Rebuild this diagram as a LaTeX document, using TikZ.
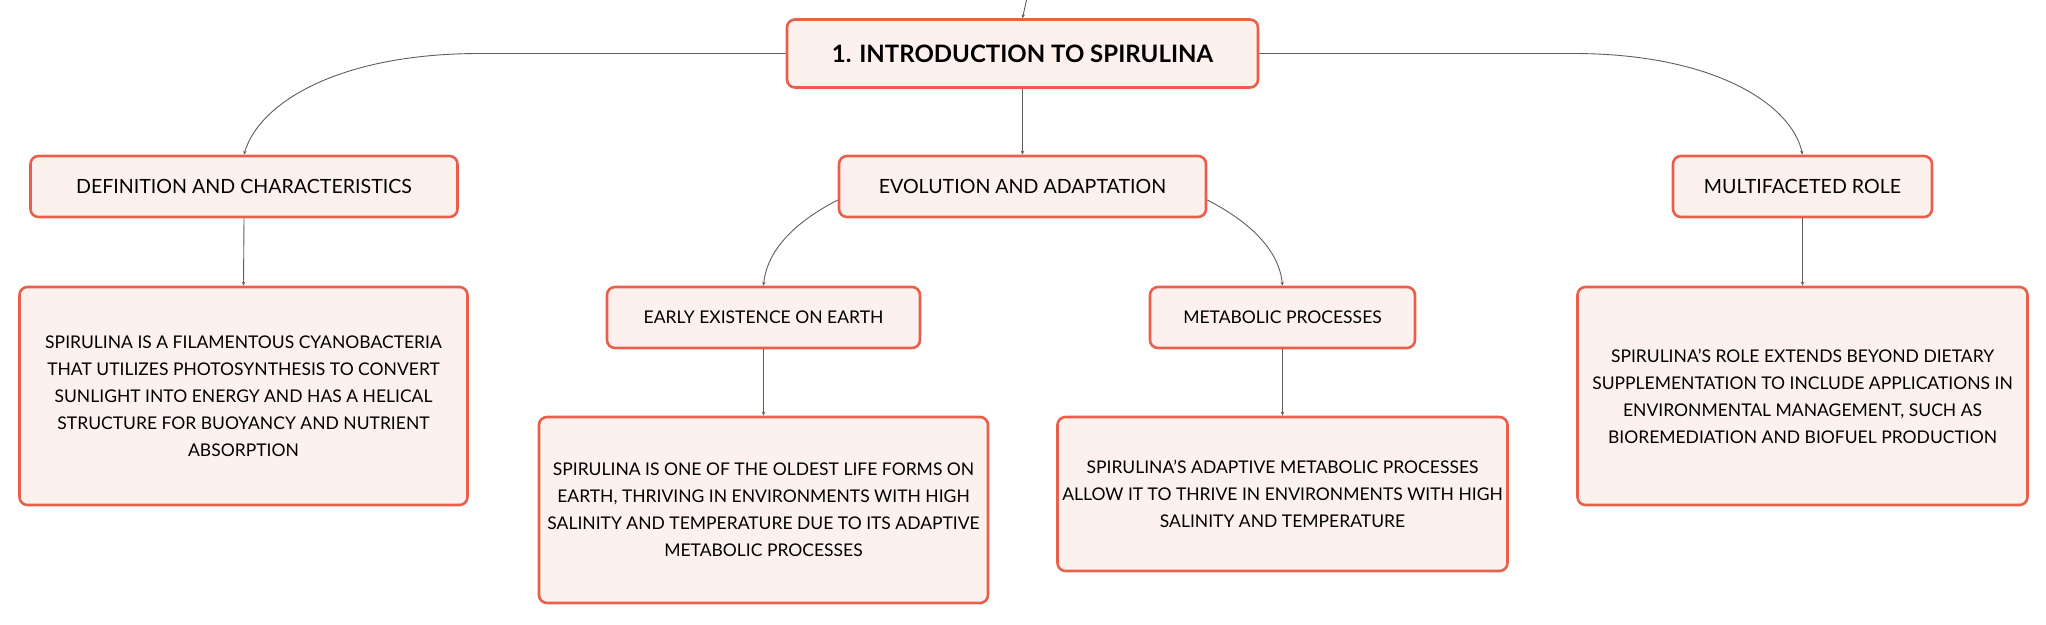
\documentclass[tikz,border=0pt]{standalone}
\usepackage{fontspec}
\setmainfont{Lato}
\usetikzlibrary{arrows.meta}
\definecolor{boxline}{HTML}{E8604C}
\definecolor{boxfill}{HTML}{FDF1EE}
\definecolor{conn}{HTML}{5E5E5E}
\tikzset{
  box/.style={draw=boxline, fill=boxfill, line width=2.6pt, rounded corners=8pt, align=center, inner sep=0pt},
  titlebox/.style={box, font=\fontsize{24}{28}\selectfont\bfseries},
  topicbox/.style={box, font=\fontsize{19.6}{24}\selectfont},
  subbox/.style={box, font=\fontsize{17.5}{22}\selectfont},
  descbox/.style={box, font=\fontsize{17.5}{27}\selectfont},
  link/.style={draw=conn, line width=0.9pt, -{Stealth[length=4pt,width=3.5pt]}}
}
\begin{document}
\begin{tikzpicture}[x=1pt,y=-1pt]
\useasboundingbox (0,0) rectangle (2046,624);
\node[titlebox, minimum width=471pt, minimum height=68pt] (main) at (1022.5,53.5) {1. INTRODUCTION TO SPIRULINA};
\node[topicbox, minimum width=427pt, minimum height=61pt] (def) at (244,186.5) {DEFINITION AND CHARACTERISTICS};
\node[topicbox, minimum width=367pt, minimum height=61pt] (evo) at (1022.5,186.5) {EVOLUTION AND ADAPTATION};
\node[topicbox, minimum width=259pt, minimum height=61pt] (multi) at (1802.5,186.5) {MULTIFACETED ROLE};
\node[descbox, minimum width=448pt, minimum height=218pt] (defd) at (243.5,396) {SPIRULINA IS A FILAMENTOUS CYANOBACTERIA\\THAT UTILIZES PHOTOSYNTHESIS TO CONVERT\\SUNLIGHT INTO ENERGY AND HAS A HELICAL\\STRUCTURE FOR BUOYANCY AND NUTRIENT\\ABSORPTION};
\node[subbox, minimum width=313pt, minimum height=61pt] (early) at (763.5,317.5) {EARLY EXISTENCE ON EARTH};
\node[descbox, minimum width=449pt, minimum height=186pt] (earlyd) at (763.5,510) {SPIRULINA IS ONE OF THE OLDEST LIFE FORMS ON\\EARTH, THRIVING IN ENVIRONMENTS WITH HIGH\\SALINITY AND TEMPERATURE DUE TO ITS ADAPTIVE\\METABOLIC PROCESSES};
\node[subbox, minimum width=265pt, minimum height=61pt] (meta) at (1282.5,317.5) {METABOLIC PROCESSES};
\node[descbox, minimum width=450pt, minimum height=154pt] (metad) at (1282.5,494) {SPIRULINA'S ADAPTIVE METABOLIC PROCESSES\\ALLOW IT TO THRIVE IN ENVIRONMENTS WITH HIGH\\SALINITY AND TEMPERATURE};
\node[descbox, minimum width=450pt, minimum height=218pt] (multid) at (1802.5,396) {SPIRULINA'S ROLE EXTENDS BEYOND DIETARY\\SUPPLEMENTATION TO INCLUDE APPLICATIONS IN\\ENVIRONMENTAL MANAGEMENT, SUCH AS\\BIOREMEDIATION AND BIOFUEL PRODUCTION};
\coordinate (parent) at (1026.5,0);
% connectors
\draw[link] (parent) -- (main.north);
\draw[link] (main.west) -- (480,53.5) .. controls (335,53.5) and (258,105) .. (def.north);
\draw[link] (main.east) -- (1573,53.5) .. controls (1715,53.5) and (1792,105) .. (multi.north);
\draw[link] (main.south) -- (evo.north);
\draw[link] (def.south) -- (defd.north);
\draw[link] (evo.west |- 0,200) .. controls (795,222) and (767,250) .. (early.north);
\draw[link] (evo.east |- 0,200) .. controls (1250,222) and (1279,250) .. (meta.north);
\draw[link] (early.south) -- (earlyd.north);
\draw[link] (meta.south) -- (metad.north);
\draw[link] (multi.south) -- (multid.north);
\end{tikzpicture}
\end{document}
